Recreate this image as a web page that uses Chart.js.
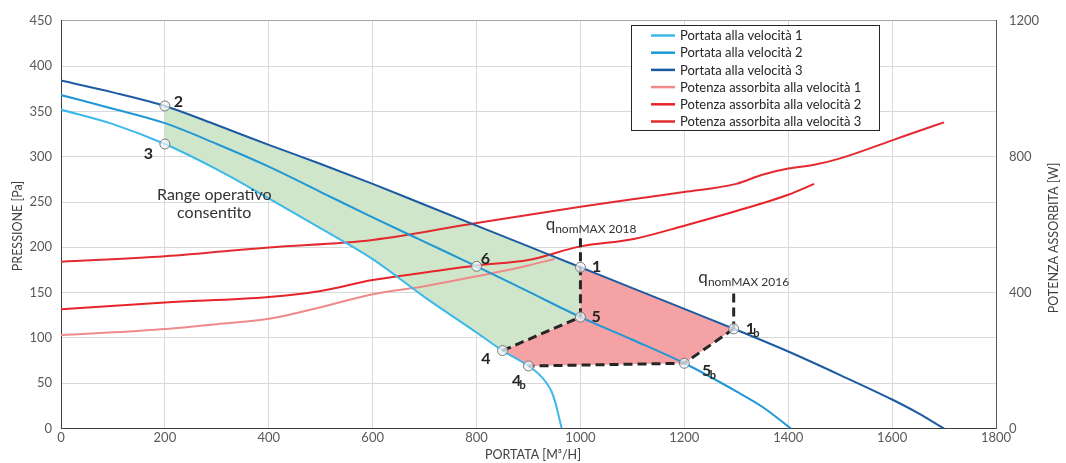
<!DOCTYPE html>
<html><head><meta charset="utf-8">
<script src="https://cdn.jsdelivr.net/npm/chart.js@4/dist/chart.umd.min.js"></script>
<style>html,body{margin:0;padding:0;background:#fff;}#wrap{width:1066px;height:463px;position:relative;}</style>
</head><body><div id="wrap"><canvas id="c" width="1066" height="463"></canvas></div>
<script>
// ---- DATA ----
const flowV1 = [0,100,200,300,400,500,600,700,800,850,900,920,935,945,952,958,964];
const pressV1 = [352,336,314,286,254,221,187,145,106,86,69,60,50,40,28,14,0];
const flowV2 = [0,100,200,300,400,500,600,700,800,900,1000,1100,1200,1300,1350,1405];
const pressV2 = [368,353,337,314,289,261,233,206,179,151,123,98,72,41,24,0];
const flowV3 = [0,100,200,300,400,500,600,700,800,900,1000,1100,1200,1300,1400,1500,1600,1650,1700];
const pressV3 = [384,371,356,335,313,292,270,247,224,201,178,155,132,109,85,59,32,17,0];
const flowP1 = [0,100,200,300,400,500,600,700,800,900,950];
const powerP1 = [275,283,293,307,323,357,395,419,448,480,499];
const flowP2 = [0,200,400,500,600,700,800,900,1000,1100,1200,1300,1400,1450];
const powerP2 = [351,371,387,405,437,459,480,496,536,557,597,640,688,720];
const flowP3 = [0,200,400,600,800,1000,1100,1200,1300,1350,1400,1450,1500,1600,1650,1700];
const powerP3 = [491,507,533,555,605,653,675,696,720,747,765,776,795,848,875,901];

const pointNames = ['1','2','3','4','4b','5','5b','6','1b'];
const pointFlow  = [1000,200,200,850,900,1000,1200,800,1295];
const pointPress = [178,356,314,86,69,123,72,179,110];

const qLine2018Press = [210,123];   // at flow of point 1
const qLine2016Press = [149,110];   // at flow of point 1b

const seriesLabels = ['Portata alla velocità 1','Portata alla velocità 2','Portata alla velocità 3',
  'Potenza assorbita alla velocità 1','Potenza assorbita alla velocità 2','Potenza assorbita alla velocità 3'];
const xTickLabels = [0,200,400,600,800,1000,1200,1400,1600,1800];
const yTickLabels = [0,50,100,150,200,250,300,350,400,450];
const y2TickLabels = [0,400,800,1200];

// ---- helpers ----
const pts = (xs, ys) => xs.map((x,i)=>({x, y: ys[i]}));
const P = n => { const i = pointNames.indexOf(n); return {x: pointFlow[i], y: pointPress[i]}; };
const v1 = pts(flowV1, pressV1), v3 = pts(flowV3, pressV3);

const greenPoly = [P('2'), ...v3.filter(p=>p.x>200&&p.x<1000), P('1'), P('5'), P('4'),
  ...v1.filter(p=>p.x>200&&p.x<850).reverse(), P('3')];
const redPoly = [P('1'), ...v3.filter(p=>p.x>1000&&p.x<P('1b').x), P('1b'), P('5b'), P('4b'),
  ...v1.filter(p=>p.x>850&&p.x<900).reverse(), P('4'), P('5')];

const C = {v1:'#3cb8ea', v2:'#1f98d5', v3:'#1c5ba3', p1:'#f08a8a', p2:'#e8242b', p3:'#e32a30',
  green:'#cfe6cb', red:'#f4a2a4', dash:'#262626', text:'#262626', tick:'#595959', grid:'#d9d9d9'};
const FONT = 'Lato, "Open Sans", sans-serif';

const curve = (label, data, color, axis) => ({label, data, borderColor: color, backgroundColor: color,
  borderWidth: 2, pointRadius: 0, cubicInterpolationMode: 'monotone', fill: false, yAxisID: axis, order: 5, legend: true});
const dash = data => ({data, borderColor: C.dash, borderWidth: 3, borderDash: [9,5], pointRadius: 0,
  fill: false, tension: 0, yAxisID: 'y', order: 3});

const datasets = [
  curve(seriesLabels[0], v1, C.v1, 'y'),
  curve(seriesLabels[1], pts(flowV2, pressV2), C.v2, 'y'),
  curve(seriesLabels[2], v3, C.v3, 'y'),
  curve(seriesLabels[3], pts(flowP1, powerP1), C.p1, 'y2'),
  curve(seriesLabels[4], pts(flowP2, powerP2), C.p2, 'y2'),
  curve(seriesLabels[5], pts(flowP3, powerP3), C.p3, 'y2'),
  {data: greenPoly, fill: 'shape', backgroundColor: C.green, borderWidth: 0, borderColor: 'transparent', pointRadius: 0, tension: 0, yAxisID: 'y', order: 20},
  {data: redPoly, fill: 'shape', backgroundColor: C.red, borderWidth: 0, borderColor: 'transparent', pointRadius: 0, tension: 0, yAxisID: 'y', order: 20},
  dash(qLine2018Press.map(y=>({x: P('1').x, y}))),
  dash(qLine2016Press.map(y=>({x: P('1b').x, y}))),
  dash([P('4'), P('5')]),
  dash([P('1b'), P('5b'), P('4b')]),
  {data: pts(pointFlow, pointPress), showLine: false, pointRadius: 5, pointBorderWidth: 1,
   pointBorderColor: '#7a7a7a', pointBackgroundColor: 'rgba(238,244,250,0.75)', yAxisID: 'y', order: 1}
];

// ---- annotation layout (data units) ----
const pointLabelPos = {
  '1':[1031,178], '2':[226,360], '3':[168,303], '4':[818,77], '4b':[877,53],
  '5':[1030,123], '5b':[1243,64], '6':[817,187], '1b':[1327,110]
};
const qLabels = [{sub:'nomMAX 2018', x:933, y:219}, {sub:'nomMAX 2016', x:1227, y:161}];
const rangeText = {lines:['Range operativo','consentito'], x:295, y:[257.5,237.5]};

const annot = {
  id: 'annot',
  afterDatasetsDraw(chart) {
    const {ctx, scales:{x, y}} = chart;
    ctx.save();
    ctx.fillStyle = C.text;
    for (const n of pointNames) {
      const [dx, dy] = pointLabelPos[n];
      const px = x.getPixelForValue(dx), py = y.getPixelForValue(dy);
      ctx.font = 'bold 16px ' + FONT;
      ctx.textBaseline = 'middle'; ctx.textAlign = 'center';
      ctx.fillText(n[0], px, py);
      if (n.length > 1) {
        ctx.font = 'bold 11px ' + FONT;
        ctx.textAlign = 'left';
        ctx.fillText(n.slice(1), px + 3, py + 5);
      }
    }
    for (const q of qLabels) {
      const px = x.getPixelForValue(q.x), py = y.getPixelForValue(q.y);
      ctx.textBaseline = 'alphabetic'; ctx.textAlign = 'left';
      ctx.font = '17px ' + FONT;
      ctx.fillStyle = '#333';
      ctx.fillText('q', px, py);
      const w = ctx.measureText('q').width;
      ctx.font = '12px ' + FONT;
      ctx.fillText(q.sub, px + w, py + 3);
    }
    ctx.font = '16px ' + FONT; ctx.textAlign = 'center'; ctx.textBaseline = 'middle';
    ctx.fillStyle = '#333';
    rangeText.lines.forEach((t,i)=> ctx.fillText(t, x.getPixelForValue(rangeText.x), y.getPixelForValue(rangeText.y[i])));
    ctx.font = '12.5px ' + FONT; ctx.fillStyle = '#404040';
    ctx.fillText('PORTATA [M³/H]', 533, 455);
    ctx.save(); ctx.translate(18, 226); ctx.rotate(-Math.PI/2); ctx.fillText('PRESSIONE [Pa]', 0, 0); ctx.restore();
    ctx.save(); ctx.translate(1054, 238); ctx.rotate(-Math.PI/2); ctx.fillText('POTENZA ASSORBITA [W]', 0, 0); ctx.restore();
    const lx = 631.5, ly = 25.5, lw = 248, lh = 105;
    ctx.fillStyle = '#fff'; ctx.fillRect(lx, ly, lw, lh);
    ctx.strokeStyle = '#262626'; ctx.lineWidth = 1; ctx.strokeRect(lx, ly, lw, lh);
    ctx.font = '13px ' + FONT; ctx.textAlign = 'left'; ctx.textBaseline = 'middle';
    chart.data.datasets.filter(d=>d.legend).forEach((d,i)=>{
      const yy = 35.5 + i*17.2;
      ctx.strokeStyle = d.borderColor; ctx.lineWidth = 2.5;
      ctx.beginPath(); ctx.moveTo(651, yy); ctx.lineTo(675, yy); ctx.stroke();
      ctx.fillStyle = C.text; ctx.fillText(d.label, 680, yy + 0.5);
    });
    ctx.restore();
  }
};

const plain = v => String(v);
Chart.defaults.font.family = FONT;
new Chart(document.getElementById('c'), {
  type: 'line',
  data: {datasets},
  plugins: [annot],
  options: {
    responsive: false, animation: false, events: [],
    layout: {padding: {top: 20.5, left: 0, right: 0, bottom: 0}},
    plugins: {legend: {display: false}, tooltip: {enabled: false}},
    scales: {
      x: {type: 'linear', min: 0, max: 1800, afterBuildTicks: s => { s.ticks = xTickLabels.map(v=>({value:v})); },
        ticks: {color: C.tick, font: {size: 13}, padding: 2, maxRotation: 0, callback: plain},
        grid: {color: C.grid, drawTicks: false}, border: {color: '#404040', width: 1},
        afterFit: s => { s.height = 34.5; }},
      y: {position: 'left', min: 0, max: 450, afterBuildTicks: s => { s.ticks = yTickLabels.map(v=>({value:v})); },
        ticks: {color: C.tick, font: {size: 13}, padding: 9, callback: plain},
        grid: {color: c => c.tick && c.tick.value === 450 ? '#a6a6a6' : C.grid, drawTicks: false},
        border: {color: '#404040', width: 1},
        afterFit: s => { s.width = 61; }},
      y2: {position: 'right', min: 0, max: 1200, afterBuildTicks: s => { s.ticks = y2TickLabels.map(v=>({value:v})); },
        ticks: {color: C.tick, font: {size: 13}, padding: 13, callback: plain},
        grid: {display: false, drawTicks: false}, border: {color: '#595959', width: 1},
        afterFit: s => { s.width = 70; }}
    }
  }
});
</script></body></html>
